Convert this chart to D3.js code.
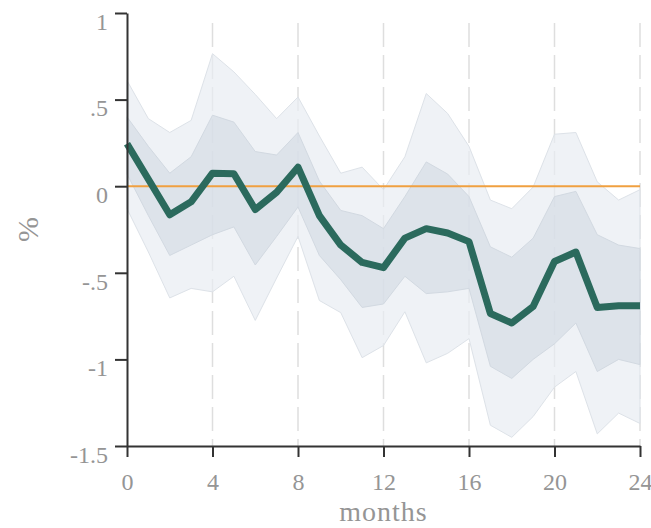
<!DOCTYPE html>
<html>
<head>
<meta charset="utf-8">
<script src="https://cdn.jsdelivr.net/npm/d3@7"></script>
<style>
    body { margin: 0; background: white; }
    svg { display: block; font-family: "Liberation Serif", "DejaVu Serif", serif; }
</style>
</head>
<body>
<svg></svg>
<script>
const svg = d3.select("svg");

const width = 651;
const height = 528;
const plotLeft = 127;
const plotRight = 640;
const plotTop = 13;
const plotBottom = 446;

// months 0..24
const months = d3.range(0, 25);
const estimate = [0.245, 0.04, -0.165, -0.09, 0.075, 0.072, -0.135, -0.035, 0.11, -0.17, -0.34, -0.44, -0.47,
    -0.30, -0.245, -0.27, -0.32, -0.735, -0.79, -0.695, -0.435, -0.38, -0.70, -0.69, -0.69];
const innerHi = [0.40, 0.23, 0.075, 0.17, 0.41, 0.37, 0.20, 0.18, 0.31, 0.03, -0.14, -0.17, -0.245,
    -0.06, 0.14, 0.07, -0.06, -0.35, -0.41, -0.30, -0.06, -0.03, -0.28, -0.34, -0.36];
const innerLo = [0.07, -0.17, -0.40, -0.34, -0.28, -0.235, -0.455, -0.29, -0.12, -0.40, -0.54, -0.70, -0.68,
    -0.52, -0.62, -0.61, -0.59, -1.04, -1.11, -1.00, -0.91, -0.79, -1.07, -1.00, -1.03];
const outerHi = [0.61, 0.39, 0.31, 0.38, 0.765, 0.66, 0.53, 0.39, 0.515, 0.29, 0.075, 0.11, -0.02,
    0.17, 0.535, 0.42, 0.23, -0.08, -0.13, -0.005, 0.30, 0.31, 0.025, -0.08, -0.02];
const outerLo = [-0.13, -0.38, -0.645, -0.59, -0.61, -0.52, -0.775, -0.53, -0.29, -0.66, -0.73, -0.99, -0.92,
    -0.725, -1.02, -0.965, -0.88, -1.38, -1.45, -1.33, -1.16, -1.07, -1.43, -1.31, -1.37];

const xTicks = [0, 4, 8, 12, 16, 20, 24];
const yTicks = [1, 0.5, 0, -0.5, -1, -1.5];
const yTickLabels = ["1", ".5", "0", "-.5", "-1", "-1.5"];

svg.attr("width", width).attr("height", height);

const x = d3.scaleLinear().domain([0, 24]).range([plotLeft, plotRight]);
const y = d3.scaleLinear().domain([-1.5, 1]).range([plotBottom, plotTop]);

// dashed vertical grid
svg.append("g")
    .selectAll("line")
    .data(xTicks.slice(1))
    .enter()
    .append("line")
    .attr("x1", d => x(d))
    .attr("x2", d => x(d))
    .attr("y1", y(1) + 10)
    .attr("y2", plotBottom)
    .attr("stroke", "#dedede")
    .attr("stroke-width", 1.5)
    .attr("stroke-dasharray", "24,8");

const band = (lo, hi) => d3.area()
    .x(d => x(d))
    .y0(d => y(lo[d]))
    .y1(d => y(hi[d]));

svg.append("path")
    .datum(months)
    .attr("d", band(outerLo, outerHi))
    .attr("fill", "#e8edf2")
    .attr("fill-opacity", 0.7)
    .attr("stroke", "#dde2e8")
    .attr("stroke-width", 1);

svg.append("path")
    .datum(months)
    .attr("d", band(innerLo, innerHi))
    .attr("fill", "#d0d9e2")
    .attr("fill-opacity", 0.6)
    .attr("stroke", "#d2d9e1")
    .attr("stroke-width", 1);

// zero line
svg.append("line")
    .attr("x1", x(0))
    .attr("x2", x(24))
    .attr("y1", y(0))
    .attr("y2", y(0))
    .attr("stroke", "#f0a040")
    .attr("stroke-width", 2);

svg.append("path")
    .datum(months)
    .attr("d", d3.line().x(d => x(d)).y(d => y(estimate[d])))
    .attr("fill", "none")
    .attr("stroke", "#2b6a5d")
    .attr("stroke-width", 7)
    .attr("stroke-linejoin", "round");

// axes
const yAxis = svg.append("g")
    .attr("transform", `translate(${plotLeft},0)`)
    .call(d3.axisLeft(y).tickValues(yTicks).tickSize(12).tickSizeOuter(0)
        .tickFormat((d, i) => yTickLabels[i]).tickPadding(7));

const xAxis = svg.append("g")
    .attr("transform", `translate(0,${plotBottom})`)
    .call(d3.axisBottom(x).tickValues(xTicks).tickSize(11).tickSizeOuter(0).tickPadding(16));

[yAxis, xAxis].forEach(g => {
    g.select(".domain").attr("stroke", "#333").attr("stroke-width", 2);
    g.selectAll(".tick line").attr("stroke", "#333").attr("stroke-width", 2);
    g.selectAll(".tick text")
        .attr("fill", "#959595")
        .style("font-size", "24px")
        .style("font-family", "'Liberation Serif', serif");
});

yAxis.selectAll(".tick text").attr("dy", "0.68em");
xAxis.selectAll(".tick text").attr("dy", "0.72em");

svg.append("text")
    .attr("x", (plotLeft + plotRight) / 2)
    .attr("y", 521)
    .attr("text-anchor", "middle")
    .attr("fill", "#959595")
    .style("font-size", "28px")
    .style("letter-spacing", "1px")
    .text("months");

svg.append("text")
    .attr("transform", `translate(38,${(plotTop + plotBottom) / 2}) rotate(-90)`)
    .attr("text-anchor", "middle")
    .attr("fill", "#959595")
    .style("font-size", "30px")
    .text("%");
</script>
</body>
</html>
